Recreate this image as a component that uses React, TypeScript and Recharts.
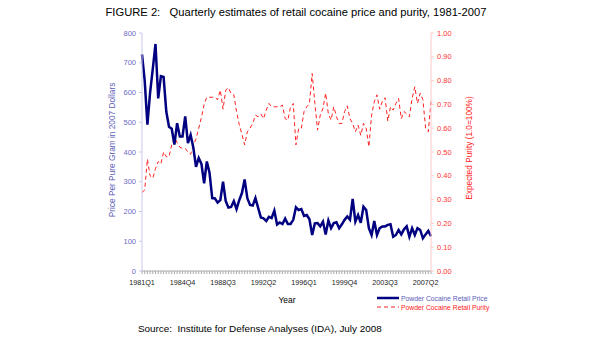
import { ComposedChart, Line, XAxis, YAxis } from 'recharts'

// Quarter labels 1981Q1 .. 2007Q4
const quarters: string[] = []
for (let y = 1981; y <= 2007; y++) {
  for (let q = 1; q <= 4; q++) quarters.push(`${y}Q${q}`)
}

const tickLabels = ['1981Q1', '1984Q4', '1988Q3', '1992Q2', '1996Q1', '1999Q4', '2003Q3', '2007Q2']

// Powder cocaine retail price, $ per pure gram (2007 dollars)
const price = [
  728, 640, 492, 600, 680, 763, 580, 655, 652, 535,
  485, 478, 425, 497, 452, 452, 520, 430, 457, 415,
  350, 380, 360, 295, 368, 330, 245, 244, 230, 238,
  300, 235, 213, 215, 235, 208, 238, 262, 308, 245,
  222, 220, 245, 212, 180, 177, 168, 182, 178, 203,
  156, 163, 158, 176, 158, 158, 172, 214, 205, 208,
  185, 188, 174, 121, 160, 161, 150, 166, 123, 170,
  144, 161, 164, 144, 157, 172, 183, 172, 242, 166,
  188, 162, 216, 205, 144, 121, 168, 121, 144, 150,
  150, 155, 157, 115, 121, 138, 123, 140, 150, 115,
  144, 121, 144, 138, 110, 123, 135, 117,
]

// Expected purity (1.0 = 100%)
const purity = [
  0.33, 0.34, 0.47, 0.4, 0.39, 0.43, 0.46, 0.45, 0.5, 0.48,
  0.48, 0.53, 0.56, 0.54, 0.52, 0.515, 0.515, 0.5, 0.49, 0.53,
  0.555, 0.6, 0.645, 0.7, 0.73, 0.73, 0.73, 0.73, 0.72, 0.76,
  0.68, 0.76, 0.77, 0.745, 0.74, 0.67, 0.615, 0.575, 0.53, 0.585,
  0.6, 0.62, 0.655, 0.648, 0.66, 0.64, 0.676, 0.704, 0.69, 0.69,
  0.69, 0.69, 0.697, 0.64, 0.634, 0.69, 0.704, 0.53, 0.6, 0.6,
  0.67, 0.69, 0.704, 0.83, 0.704, 0.592, 0.655, 0.683, 0.747, 0.66,
  0.634, 0.69, 0.648, 0.62, 0.62, 0.67, 0.694, 0.64, 0.62, 0.585,
  0.613, 0.57, 0.62, 0.6, 0.522, 0.655, 0.711, 0.74, 0.68, 0.714,
  0.728, 0.63, 0.69, 0.676, 0.704, 0.725, 0.64, 0.67, 0.66, 0.648,
  0.725, 0.774, 0.704, 0.747, 0.72, 0.6, 0.585, 0.711,
]

const data = quarters.map((q, i) => ({ q, price: price[i], purity: purity[i] }))

const FONT = '"Liberation Sans", Arial, sans-serif'

const QuarterTick = (props: any) => {
  const { x, y, payload } = props
  if (!tickLabels.includes(payload.value)) return <g />
  return (
    <text x={x} y={y + 9} textAnchor="middle" fill="#222" fontSize={7.2} fontFamily={FONT}>
      {payload.value}
    </text>
  )
}

export default function App() {
  return (
    <div style={{ position: 'absolute', left: 0, top: 0, width: 595, height: 342, background: '#fff', fontFamily: FONT }}>
      <ComposedChart width={595} height={342} data={data} margin={{ top: 33, right: 0, bottom: 0, left: 0 }}>
        <XAxis
          dataKey="q"
          scale="point"
          interval={0}
          height={71}
          tick={<QuarterTick />}
          tickSize={3}
          tickLine={{ stroke: '#aaaaaa' }}
          axisLine={{ stroke: '#aaaaaa' }}
        />
        <YAxis
          yAxisId="l"
          width={142}
          domain={[0, 800]}
          ticks={[0, 100, 200, 300, 400, 500, 600, 700, 800]}
          tick={{ fill: '#6b6bbf', fontSize: 7.5, fontFamily: FONT }}
          tickSize={3}
          tickMargin={3}
          tickLine={{ stroke: '#c8c8e8' }}
          axisLine={{ stroke: '#c8c8e8' }}
        />
        <YAxis
          yAxisId="r"
          orientation="right"
          width={164}
          domain={[0, 1]}
          ticks={[0, 0.1, 0.2, 0.3, 0.4, 0.5, 0.6, 0.7, 0.8, 0.9, 1]}
          tickFormatter={(v: number) => v.toFixed(2)}
          tick={{ fill: '#ff3333', fontSize: 7.5, fontFamily: FONT, textAnchor: 'start' }}
          tickSize={3}
          tickMargin={3}
          tickLine={{ stroke: '#ffc8c8' }}
          axisLine={{ stroke: '#ffc8c8' }}
        />
        <Line
          yAxisId="r"
          dataKey="purity"
          type="linear"
          stroke="#ff2020"
          strokeWidth={1}
          strokeDasharray="4 3"
          dot={false}
          isAnimationActive={false}
        />
        <Line
          yAxisId="l"
          dataKey="price"
          type="linear"
          stroke="#000080"
          strokeWidth={2.5}
          dot={false}
          isAnimationActive={false}
        />
      </ComposedChart>

      <div style={{ position: 'absolute', left: 296, top: 12, transform: 'translate(-50%,-50%)', whiteSpace: 'pre', fontSize: 11.2, color: '#000' }}>
        {'FIGURE 2:   Quarterly estimates of retail cocaine price and purity, 1981-2007'}
      </div>
      <div style={{ position: 'absolute', left: 112, top: 150, transform: 'translate(-50%,-50%) rotate(-90deg)', whiteSpace: 'nowrap', fontSize: 8.3, color: '#5c5cb8' }}>
        Price Per Pure Gram in 2007 Dollars
      </div>
      <div style={{ position: 'absolute', left: 469, top: 148, transform: 'translate(-50%,-50%) rotate(-90deg)', whiteSpace: 'nowrap', fontSize: 8.3, color: '#ff2020' }}>
        Expected Purity (1.0=100%)
      </div>
      <div style={{ position: 'absolute', left: 287, top: 300, transform: 'translate(-50%,-50%)', fontSize: 8.5, color: '#000' }}>
        Year
      </div>

      {/* legend */}
      <svg style={{ position: 'absolute', left: 376, top: 292 }} width={24} height={20}>
        <line x1={1} y1={6} x2={23} y2={6} stroke="#000080" strokeWidth={2.5} />
        <line x1={1} y1={15} x2={23} y2={15} stroke="#ff2020" strokeWidth={1} strokeDasharray="4 3" />
      </svg>
      <div style={{ position: 'absolute', left: 401, top: 298, transform: 'translateY(-50%)', whiteSpace: 'nowrap', fontSize: 6.8, color: '#5c5cb8' }}>
        Powder Cocaine Retail Price
      </div>
      <div style={{ position: 'absolute', left: 401, top: 307, transform: 'translateY(-50%)', whiteSpace: 'nowrap', fontSize: 6.8, color: '#ff2020' }}>
        Powder Cocaine Retail Purity
      </div>

      <div style={{ position: 'absolute', left: 138, top: 328, transform: 'translateY(-50%)', whiteSpace: 'pre', fontSize: 9.9, color: '#000' }}>
        {'Source:  Institute for Defense Analyses (IDA), July 2008'}
      </div>
    </div>
  )
}
